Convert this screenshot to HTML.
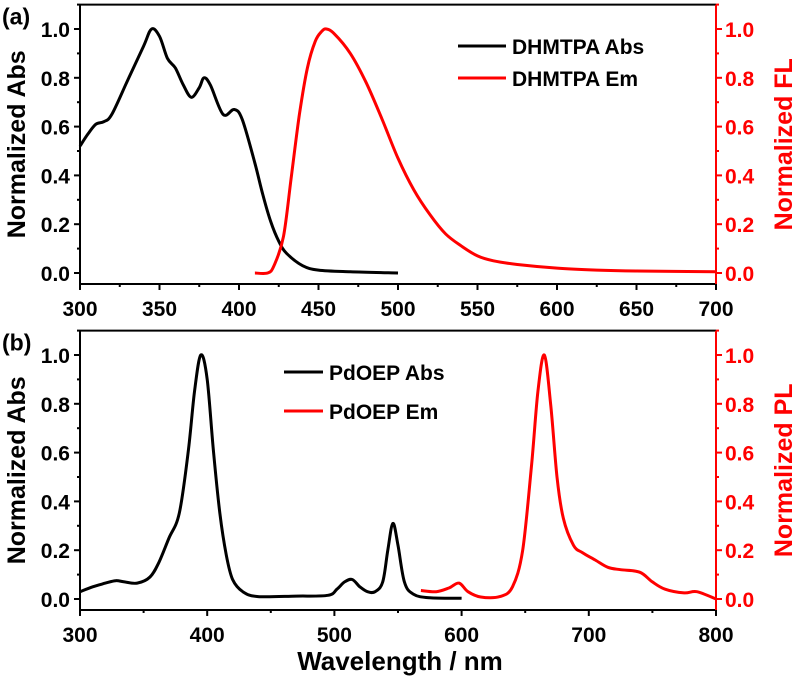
<!DOCTYPE html>
<html><head><meta charset="utf-8"><style>
body{margin:0;background:#fff}
svg{display:block;font-family:"Liberation Sans",sans-serif;font-weight:bold}
</style></head><body>
<svg id="c" width="798" height="679"></svg>
<script>
const aAbsX=[300,305,310,315,320,330,340,345,350,355,360,365,370,375,378,382,390,397,402,410,415,420,425,430,440,450,470,500];
const aAbsY=[0.52,0.57,0.61,0.62,0.65,0.79,0.93,1.0,0.97,0.88,0.84,0.77,0.72,0.76,0.80,0.77,0.65,0.67,0.63,0.45,0.32,0.21,0.13,0.08,0.03,0.012,0.005,0.0];
const aEmX=[410,418,422,428,433,438,443,448,452,455,460,470,480,490,500,510,520,530,540,550,560,575,600,625,650,700];
const aEmY=[0,0,0.03,0.15,0.4,0.65,0.84,0.95,0.99,1.0,0.98,0.9,0.78,0.63,0.47,0.34,0.24,0.16,0.11,0.07,0.05,0.035,0.02,0.012,0.008,0.005];
const bAbsX=[300,310,320,328,335,345,355,362,370,378,385,390,395,400,405,410,415,420,428,440,470,495,502,508,514,520,526,532,538,542,546,550,555,562,575,600];
const bAbsY=[0.03,0.05,0.065,0.075,0.07,0.065,0.09,0.15,0.25,0.35,0.6,0.85,1.0,0.9,0.6,0.35,0.18,0.08,0.03,0.01,0.012,0.015,0.04,0.07,0.08,0.05,0.03,0.03,0.07,0.2,0.31,0.22,0.07,0.02,0.005,0.003];
const bEmX=[568,580,590,598,605,615,630,640,648,655,660,665,670,675,680,688,695,705,715,725,740,750,760,775,785,800];
const bEmY=[0.035,0.03,0.045,0.065,0.03,0.008,0.01,0.05,0.2,0.55,0.85,1.0,0.8,0.5,0.33,0.22,0.19,0.16,0.13,0.12,0.11,0.07,0.04,0.025,0.03,0.0];
const yTicks=[0,0.2,0.4,0.6,0.8,1.0];
const aXTicks=[300,350,400,450,500,550,600,650,700];
const bXTicks=[300,400,500,600,700,800];
const NS="http://www.w3.org/2000/svg";
const svg=document.getElementById('c');
function mk(t,a,p){const e=document.createElementNS(NS,t);for(const k in a)e.setAttribute(k,a[k]);(p||svg).appendChild(e);return e;}
function smooth(pts){
  let d='M'+pts[0][0].toFixed(1)+','+pts[0][1].toFixed(1);
  for(let i=0;i<pts.length-1;i++){
    const p0=pts[Math.max(0,i-1)],p1=pts[i],p2=pts[i+1],p3=pts[Math.min(pts.length-1,i+2)];
    const c1=[p1[0]+(p2[0]-p0[0])/6,p1[1]+(p2[1]-p0[1])/6];
    const c2=[p2[0]-(p3[0]-p1[0])/6,p2[1]-(p3[1]-p1[1])/6];
    d+='C'+c1[0].toFixed(1)+','+c1[1].toFixed(1)+' '+c2[0].toFixed(1)+','+c2[1].toFixed(1)+' '+p2[0].toFixed(1)+','+p2[1].toFixed(1);
  }
  return d;
}
function panel(o){
  const L=80,R=716;
  const sx=v=>L+(v-o.x0)/(o.x1-o.x0)*(R-L);
  const sy=v=>o.y0-(v)*(o.y0-o.y1);
  const g=mk('g',{});
  
  
  const top=sy(1.1),bot=sy(-0.045);
  let e=mk('line',{x1:L,y1:top,x2:R,y2:top,stroke:'#000','stroke-width':2},g);
  e=mk('line',{x1:L,y1:bot,x2:R,y2:bot,stroke:'#000','stroke-width':2},g);
  
  e=mk('line',{x1:L,y1:top,x2:L,y2:bot,stroke:'#000','stroke-width':2},g);
  
  e=mk('line',{x1:R,y1:top,x2:R,y2:bot,stroke:'#f00','stroke-width':2},g);
  
  for(let i=0;i<yTicks.length;i++){
    const v=yTicks[i],y=sy(v);
    mk('line',{x1:L-6,y1:y,x2:L,y2:y,stroke:'#000','stroke-width':2},g);
    mk('line',{x1:R,y1:y,x2:R+6,y2:y,stroke:'#f00','stroke-width':2},g);
    const ym=sy(v+0.1);
    if(v<1.05){mk('line',{x1:L-3,y1:ym,x2:L,y2:ym,stroke:'#000','stroke-width':2},g);mk('line',{x1:R,y1:ym,x2:R+3,y2:ym,stroke:'#f00','stroke-width':2},g);}
    let t=mk('text',{x:L-10,y:y+8,'text-anchor':'end','font-size':21},g);t.textContent=v.toFixed(1);
    
    t=mk('text',{x:R+9,y:y+8,'text-anchor':'start','font-size':21,fill:'#f00'},g);t.textContent=v.toFixed(1);
    
  }
  const xt=o.xt;
  for(let i=0;i<xt.length;i++){
    const x=sx(xt[i]);
    mk('line',{x1:x,y1:bot,x2:x,y2:bot+6,stroke:'#000','stroke-width':2},g);
    if(i<xt.length-1){const xm=sx((xt[i]+xt[i+1])/2);mk('line',{x1:xm,y1:bot,x2:xm,y2:bot+3,stroke:'#000','stroke-width':2},g);}
    const t=mk('text',{x:x,y:bot+32,'text-anchor':'middle','font-size':21},g);t.textContent=xt[i];
    
  }
  function line(xs,ys,col,nm){
    const pts=xs.map((x,i)=>[sx(x),sy(ys[i])]);
    const p=mk('path',{d:smooth(pts),fill:'none',stroke:col,'stroke-width':3,'stroke-linejoin':'round'},g);
    
  }
  line(o.ax,o.ay,'#000',o.n1+'-abs-line');
  line(o.ex,o.ey,'#f00',o.n1+'-em-line');
  let t=mk('text',{x:0,y:0,'text-anchor':'middle','font-size':25,transform:`translate(25,${(top+bot)/2}) rotate(-90)`},g);
  t.textContent='Normalized Abs';
  t=mk('text',{x:0,y:0,'text-anchor':'middle','font-size':25,fill:'#f00',transform:`translate(792,${(top+bot)/2}) rotate(-90)`},g);
  t.textContent=o.rl;
  t=mk('text',{x:2,y:top+20,'font-size':23},g);t.textContent=o.tag;
  
  const lg=o.lg;
  for(let i=0;i<2;i++){
    const y=lg.y+i*lg.dy;
    let l=mk('line',{x1:lg.x,y1:y,x2:lg.x+lg.w,y2:y,stroke:i?'#f00':'#000','stroke-width':3},g);
    
    t=mk('text',{x:lg.x+lg.w+6,y:y+8,'font-size':21},g);t.textContent=lg.t[i];
    
  }
}
panel({name:'panel-a',n1:'dhmtpa',tag:'(a)',x0:300,x1:700,y0:273,y1:29,xt:aXTicks,ax:aAbsX,ay:aAbsY,ex:aEmX,ey:aEmY,rl:'Normalized FL',lg:{x:458,y:46,dy:32,w:48,t:['DHMTPA Abs','DHMTPA Em']}});
panel({name:'panel-b',n1:'pdoep',tag:'(b)',x0:300,x1:800,y0:599,y1:355,xt:bXTicks,ax:bAbsX,ay:bAbsY,ex:bEmX,ey:bEmY,rl:'Normalized PL',lg:{x:284,y:372,dy:39,w:39,t:['PdOEP Abs','PdOEP Em']}});
const xl=mk('text',{x:400,y:670,'text-anchor':'middle','font-size':26});
xl.textContent='Wavelength / nm';


</script>
</body></html>
